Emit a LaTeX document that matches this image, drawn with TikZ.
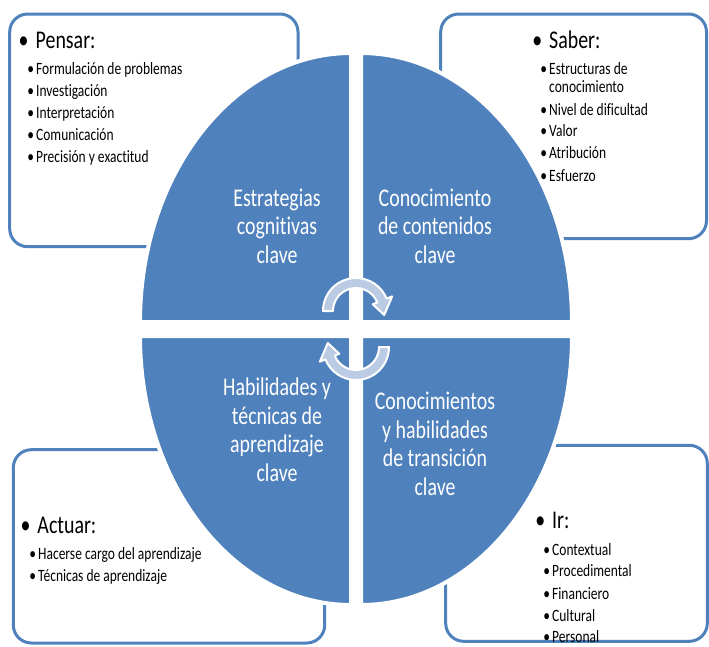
\documentclass[tikz,border=0pt]{standalone}
\usepackage{fontspec}
\setmainfont{Carlito}[FakeStretch=0.78, Ligatures=NoCommon]
\definecolor{qblue}{HTML}{4F81BD}
\definecolor{ablue}{HTML}{BACBE3}
\newcommand\bigb{\llap{\makebox[24pt][c]{•}}}
\newcommand\smb{\llap{\makebox[11pt][c]{•}}}
\tikzset{
  quad/.style={fill=qblue, draw=white, line width=4pt, line join=round},
  rbox/.style={draw=qblue, line width=3pt, rounded corners=18pt, fill=white},
  qlabel/.style={text=white, align=center, font=\fontsize{25.5}{28.4}\selectfont, inner sep=0pt, anchor=base},
  headtxt/.style={font=\fontsize{25.5}{28}\selectfont, inner sep=0pt, anchor=base west},
  itemtxt/.style={font=\fontsize{17.3}{19}\selectfont, inner sep=0pt, anchor=base west},
  carrow/.style={fill=ablue, draw=white, line width=2pt, line join=round}
}
\begin{document}
\begin{tikzpicture}[x=1pt,y=-1pt]
\useasboundingbox (0,0) rectangle (709,646);
\clip (0,0) rectangle (709,646);
% boxes
\draw[rbox] (9.7,14) rectangle (298,246.7);
\draw[rbox] (440.7,14) rectangle (706.5,238.7);
\draw[rbox] (13.3,449.7) rectangle (324.7,643);
\draw[rbox] (445.7,445.3) rectangle (707.3,641.3);
% quadrants
\path[quad] (351,322) -- (140,322) arc[start angle=180, end angle=270, x radius=211, y radius=269] -- cycle;
\path[quad] (361,322) -- (361,53) arc[start angle=270, end angle=360, x radius=211, y radius=269] -- cycle;
\path[quad] (351,336) -- (351,605) arc[start angle=90, end angle=180, x radius=211, y radius=269] -- cycle;
\path[quad] (361,336) -- (572,336) arc[start angle=0, end angle=90, x radius=211, y radius=269] -- cycle;
% circular arrows
\coordinate (c1) at (356,311);
\coordinate (c2) at (356,347);
\path[carrow] ([shift={(180:33)}]c1) arc[start angle=180, end angle=338, radius=33]
  -- ([shift={(338:39)}]c1) -- ([shift={(368:28.5)}]c1) -- ([shift={(338:18)}]c1)
  -- ([shift={(338:23)}]c1) arc[start angle=338, end angle=180, radius=23] -- cycle;
\path[carrow] ([shift={(0:33)}]c2) arc[start angle=0, end angle=158, radius=33]
  -- ([shift={(158:39)}]c2) -- ([shift={(188:28.5)}]c2) -- ([shift={(158:18)}]c2)
  -- ([shift={(158:23)}]c2) arc[start angle=158, end angle=0, radius=23] -- cycle;
% quadrant labels (base = last line)
\node[qlabel] (q1) at (277,263) {Estrategias\\cognitivas\\clave};
\node[qlabel] (q2) at (435,263) {Conocimiento\\de contenidos\\clave};
\node[qlabel] (q3) at (277,481) {Habilidades y\\técnicas de\\aprendizaje\\clave};
\node[qlabel] (q4) at (435,495) {Conocimientos\\y habilidades\\de transición\\clave};
% Pensar
\node[headtxt] (ph) at (35.5,48) {\bigb Pensar:};
\node[itemtxt] (p1) at (36,74) {\smb Formulación de problemas};
\node[itemtxt] (p2) at (36,96) {\smb Investigación};
\node[itemtxt] (p3) at (36,118.3) {\smb Interpretación};
\node[itemtxt] (p4) at (36,140) {\smb Comunicación};
\node[itemtxt] (p5) at (36,162.3) {\smb Precisión y exactitud};
% Saber
\node[headtxt] (sh) at (549,48) {\bigb Saber:};
\node[itemtxt] (s1) at (549,74) {\smb Estructuras de};
\node[itemtxt] (s1b) at (549,92.3) {conocimiento};
\node[itemtxt] (s2) at (549,115) {\smb Nivel de dificultad};
\node[itemtxt] (s3) at (549,136.7) {\smb Valor};
\node[itemtxt] (s4) at (549,158.3) {\smb Atribución};
\node[itemtxt] (s5) at (549,181) {\smb Esfuerzo};
% Actuar
\node[headtxt] (ah) at (37.3,533.3) {\bigb Actuar:};
\node[itemtxt] (a1) at (38,559.3) {\smb Hacerse cargo del aprendizaje};
\node[itemtxt] (a2) at (38,581.7) {\smb Técnicas de aprendizaje};
% Ir
\node[headtxt] (ih) at (552,528.3) {\bigb Ir:};
\node[itemtxt] (i1) at (552,555) {\smb Contextual};
\node[itemtxt] (i2) at (552,576.7) {\smb Procedimental};
\node[itemtxt] (i3) at (552,599) {\smb Financiero};
\node[itemtxt] (i4) at (552,621) {\smb Cultural};
\node[itemtxt] (i5) at (552,642.7) {\smb Personal};
\end{tikzpicture}
\end{document}
